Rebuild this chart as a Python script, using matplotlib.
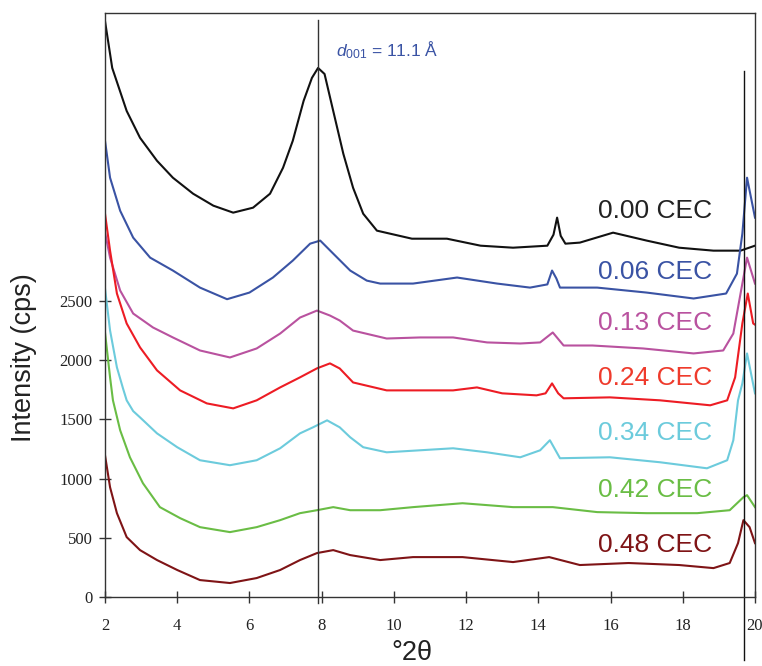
import matplotlib
matplotlib.use('Agg')
import matplotlib.pyplot as plt

# XRD patterns, values (cps)
tt_000 = [2.0, 2.2, 2.6, 2.97, 3.44, 3.88, 4.44, 5.0, 5.55, 6.1, 6.57, 6.93, 7.2, 7.5, 7.73, 7.9,
          8.08, 8.3, 8.6, 8.87, 9.15, 9.53, 10.5, 11.47, 12.4, 13.3, 14.25, 14.42, 14.52, 14.62,
          14.75, 15.15, 16.07, 17.0, 17.9, 18.85, 19.6, 20.0]
cps_000 = [4864, 4468, 4105, 3878, 3684, 3541, 3406, 3305, 3246, 3288, 3406, 3625, 3853, 4190, 4384, 4468,
           4417, 4131, 3743, 3456, 3237, 3094, 3026, 3026, 2967, 2950, 2967, 3060, 3204, 3050,
           2984, 2993, 3077, 3010, 2950, 2925, 2925, 2967]

tt_006 = [2.0, 2.14, 2.42, 2.78, 3.25, 3.88, 4.63, 5.38, 6.0, 6.65, 7.2, 7.68, 7.96, 8.32, 8.79, 9.25,
          9.62, 10.53, 11.75, 12.86, 13.77, 14.25, 14.38, 14.5, 14.6, 15.63, 17.0, 18.3, 19.2, 19.5,
          19.65, 19.78, 20.0]
cps_006 = [3853, 3541, 3262, 3035, 2866, 2757, 2613, 2515, 2571, 2698, 2841, 2984, 3010, 2900, 2757, 2672,
           2647, 2647, 2698, 2647, 2613, 2640, 2757, 2690, 2613, 2613, 2571, 2521, 2563, 2731,
           3069, 3541, 3204]

tt_013 = [2.0, 2.14, 2.42, 2.78, 3.33, 3.88, 4.63, 5.46, 6.2, 6.85, 7.4, 7.87, 8.23, 8.5, 8.87, 9.8,
          10.72, 11.64, 12.58, 13.5, 14.05, 14.4, 14.7, 15.5, 16.9, 18.3, 19.12, 19.4, 19.65, 19.78, 20.0]
cps_013 = [3080, 2866, 2588, 2394, 2276, 2192, 2082, 2023, 2099, 2225, 2360, 2419, 2377, 2335, 2250, 2183,
           2192, 2192, 2150, 2141, 2150, 2234, 2124, 2124, 2099, 2057, 2082, 2225, 2647, 2866, 2647]

tt_024 = [2.0, 2.14, 2.33, 2.6, 2.97, 3.44, 4.08, 4.82, 5.55, 6.2, 6.85, 7.4, 7.87, 8.23, 8.5, 8.87,
          9.8, 10.72, 11.64, 12.3, 13.0, 13.95, 14.2, 14.38, 14.55, 14.7, 15.98, 17.37, 18.76, 19.23,
          19.45, 19.65, 19.8, 19.95, 20.0]
cps_024 = [3237, 2925, 2563, 2310, 2108, 1914, 1745, 1635, 1593, 1661, 1770, 1855, 1931, 1973, 1930, 1812,
           1745, 1745, 1745, 1770, 1720, 1703, 1720, 1804, 1720, 1678, 1686, 1661, 1619, 1661,
           1855, 2310, 2563, 2310, 2300]

tt_034 = [2.0, 2.14, 2.33, 2.5, 2.6, 2.78, 2.97, 3.44, 4.0, 4.63, 5.46, 6.2, 6.85, 7.4, 7.76, 8.15,
          8.5, 8.79, 9.15, 9.8, 10.72, 11.64, 12.58, 13.5, 14.05, 14.32, 14.6, 15.98, 17.37, 18.67,
          19.23, 19.4, 19.53, 19.65, 19.78, 20.0]
cps_034 = [2605, 2251, 1939, 1760, 1661, 1570, 1517, 1382, 1265, 1155, 1113, 1155, 1256, 1382, 1433, 1492,
           1433, 1349, 1265, 1222, 1239, 1256, 1222, 1180, 1239, 1324, 1172, 1180, 1138, 1087,
           1155, 1324, 1661, 1804, 2057, 1720]

tt_042 = [2.0, 2.14, 2.22, 2.42, 2.69, 3.05, 3.52, 4.08, 4.63, 5.46, 6.2, 6.85, 7.4, 7.87, 8.32, 8.79,
          9.62, 10.53, 11.9, 13.3, 14.4, 15.63, 17.0, 18.4, 19.3, 19.68, 19.78, 20.0]
cps_042 = [2234, 1855, 1661, 1408, 1180, 961, 759, 666, 590, 548, 590, 649, 708, 733, 759, 733,
           733, 759, 792, 759, 759, 717, 708, 708, 733, 843, 860, 759]

tt_048 = [2.0, 2.14, 2.33, 2.6, 2.97, 3.44, 4.0, 4.63, 5.46, 6.2, 6.85, 7.4, 7.87, 8.32, 8.79, 9.62,
          10.53, 11.9, 13.3, 14.3, 15.15, 16.5, 17.9, 18.85, 19.3, 19.53, 19.68, 19.85, 20.0]
cps_048 = [1197, 927, 708, 506, 396, 312, 228, 143, 118, 160, 228, 312, 371, 396, 354, 312,
           337, 337, 295, 337, 270, 287, 270, 244, 287, 455, 649, 590, 455]

series = [(tt_000, cps_000), (tt_006, cps_006), (tt_013, cps_013), (tt_024, cps_024),
          (tt_034, cps_034), (tt_042, cps_042), (tt_048, cps_048)]
names = ['0.00 CEC', '0.06 CEC', '0.13 CEC', '0.24 CEC', '0.34 CEC', '0.42 CEC', '0.48 CEC']
line_colors = ['#111111', '#3a53a4', '#b9529f', '#ed1c24', '#6ccbdc', '#6abd45', '#7f1416']
text_colors = ['#222222', '#3a53a4', '#b9529f', '#ef3b2c', '#6ccbdc', '#6abd45', '#7f1416']
label_base = [3203, 2689, 2251, 1787, 1324, 843, 379]   # text baselines, in cps

plt.rcParams['mathtext.fontset'] = 'custom'
plt.rcParams['mathtext.rm'] = 'Liberation Sans'
plt.rcParams['mathtext.it'] = 'Liberation Sans:italic'

fig = plt.figure(figsize=(7.62, 6.66), dpi=100)
ax = fig.add_axes([0.1378, 0.1036, 0.853, 0.8774])

for (tt, cps), c in zip(series, line_colors):
    ax.plot(tt, cps, color=c, lw=1.5)

for name, c, yb in zip(names, text_colors, label_base):
    ax.text(15.65, yb, name, color=c, fontsize=19, family='Liberation Sans', va='baseline')

# reference lines, running past the frame like in the original
ax.axvline(7.9, ymin=-0.0103, ymax=0.9875, color='#333333', lw=1, clip_on=False)
ax.axvline(19.7, ymin=-0.108, ymax=0.900, color='#111111', lw=1, clip_on=False)

ax.text(8.4, 4569, r'$d_{001}$ = 11.1 Å', color='#3a53a4', fontsize=12.5, family='Liberation Sans')

ax.set_xlim(2, 20)
ax.set_ylim(0, 4935)
ax.set_xticks(range(2, 21, 2))
ax.set_yticks(range(0, 2501, 500))
for s in ax.spines.values():
    s.set_color('#333333')
    s.set_linewidth(1)
ax.tick_params(direction='inout', length=8, width=1, color='#333333', labelsize=12)
ax.tick_params(axis='x', pad=11)
ax.tick_params(axis='y', pad=5)
for lab in ax.get_xticklabels() + ax.get_yticklabels():
    lab.set_family('Liberation Serif')
    lab.set_color('#222222')

ax.set_ylabel('Intensity (cps)', fontsize=19.5, family='Liberation Sans', color='#222222')
ax.yaxis.set_label_coords(-0.105, 0.41)
ax.set_xlabel('°2θ', fontsize=19.5, family='Liberation Sans', color='#222222')
ax.xaxis.set_label_coords(0.472, -0.073)

fig.savefig('out.png', dpi=100)
